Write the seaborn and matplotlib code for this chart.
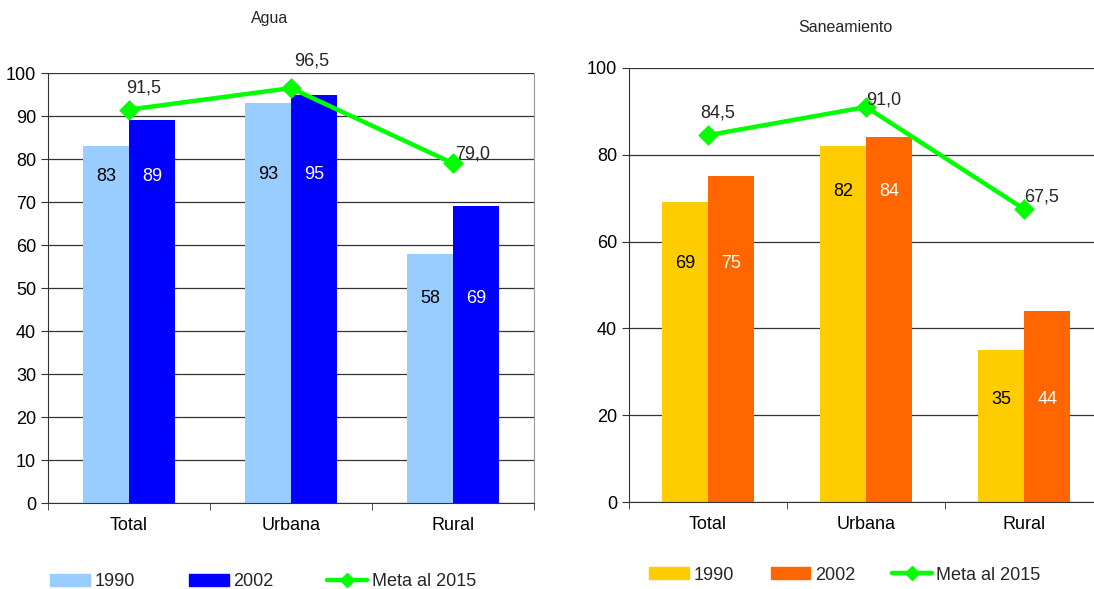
import pandas as pd
import matplotlib.pyplot as plt
import seaborn as sns
from matplotlib.patches import Patch
from matplotlib.lines import Line2D

categorias = ['Total', 'Urbana', 'Rural']
agua_1990 = [83, 93, 58]
agua_2002 = [89, 95, 69]
agua_meta = [91.5, 96.5, 79.0]
san_1990 = [69, 82, 35]
san_2002 = [75, 84, 44]
san_meta = [84.5, 91.0, 67.5]

# where the value labels sit inside the bars (hand placed in the original)
agua_label_y = [76, 76.5, 47.5]
san_label_y = [55, 71.5, 23.5]
# offsets (points) of the goal labels from their markers
agua_meta_off = [(10.8, 15.8), (15, 19.4), (14.4, 6.5)]
san_meta_off = [(7.2, 15.8), (13, 5), (13, 8.6)]

sns.set_style("white")
plt.rcParams['font.family'] = ['Liberation Sans', 'DejaVu Sans']

fig = plt.figure(figsize=(10.94, 5.89), dpi=100)
ax1 = fig.add_axes([48 / 1094, 0.146, 486 / 1094, 0.730])
ax2 = fig.add_axes([629 / 1094, 0.1477, 474 / 1094, 0.737])


def panel(ax, v1990, v2002, meta, colores, ymax, paso, label_y, offs, width):
    df = pd.DataFrame({
        'cat': categorias * 2,
        'year': ['1990'] * 3 + ['2002'] * 3,
        'val': v1990 + v2002,
    })
    sns.barplot(x='cat', y='val', hue='year', data=df, palette=colores,
                width=width, saturation=1, ax=ax, legend=False,
                linewidth=0, edgecolor='none')
    sns.pointplot(x=categorias, y=meta, color='#00ff00', markers='D',
                  markersize=8, linewidth=3.2, ax=ax)
    for cont, col in zip(ax.containers[:2], ['black', 'white']):
        for bar, ly in zip(cont, label_y):
            h = bar.get_height()
            ax.text(bar.get_x() + bar.get_width() / 2, ly, f'{h:.0f}',
                    ha='center', va='center', fontsize=13, color=col)
    for i, (m, off) in enumerate(zip(meta, offs)):
        ax.annotate(f'{m:.1f}'.replace('.', ','), (i, m), xytext=off,
                    textcoords='offset points', ha='center', va='center',
                    fontsize=13)
    ax.set_ylim(0, ymax)
    ax.set_xlim(-0.5, 2.5)
    ax.set_yticks(range(0, ymax + 1, paso))
    ax.set_xticks([-0.5, 0.5, 1.5, 2.5], minor=True)
    ax.yaxis.grid(True, color='#333333', linewidth=0.9)
    ax.set_axisbelow(True)
    ax.set_xlabel('')
    ax.set_ylabel('')
    ax.spines['top'].set_visible(False)
    ax.spines['right'].set_color('#999999')
    for s in ['left', 'bottom']:
        ax.spines[s].set_color('#333333')
    ax.tick_params(axis='both', labelsize=13, colors='#000000',
                   direction='out')
    ax.tick_params(axis='y', length=5, left=True, color='#333333')
    ax.tick_params(axis='x', which='major', length=0, pad=10)
    ax.tick_params(axis='x', which='minor', length=5, bottom=True,
                   color='#333333')


panel(ax1, agua_1990, agua_2002, agua_meta, ['#99ccff', '#0000ff'],
      100, 10, agua_label_y, agua_meta_off, 0.57)
panel(ax2, san_1990, san_2002, san_meta, ['#ffcc00', '#ff6600'],
      100, 20, san_label_y, san_meta_off, 0.586)

fig.text(270 / 1094, 1 - 18 / 589, 'Agua', ha='center', va='center',
         fontsize=11.5)
fig.text(845 / 1094, 1 - 28 / 589, 'Saneamiento', ha='center', va='center',
         fontsize=11.5)


def leyenda(colores, x, y, spacing):
    handles = [Patch(color=colores[0]), Patch(color=colores[1]),
               Line2D([], [], color='#00ff00', lw=3.2, marker='D',
                      markersize=7)]
    fig.legend(handles, ['1990', '2002', 'Meta al 2015'], ncol=3,
               loc='center left', bbox_to_anchor=(x, y), frameon=False,
               fontsize=13, columnspacing=spacing, handlelength=2.2,
               handleheight=0.6, handletextpad=0.25, borderpad=0,
               borderaxespad=0)


leyenda(['#99ccff', '#0000ff'], 50 / 1094, 1 - 582 / 589, 3.0)
leyenda(['#ffcc00', '#ff6600'], 649 / 1094, 1 - 575 / 589, 2.05)

plt.savefig('out.png', dpi=100)
